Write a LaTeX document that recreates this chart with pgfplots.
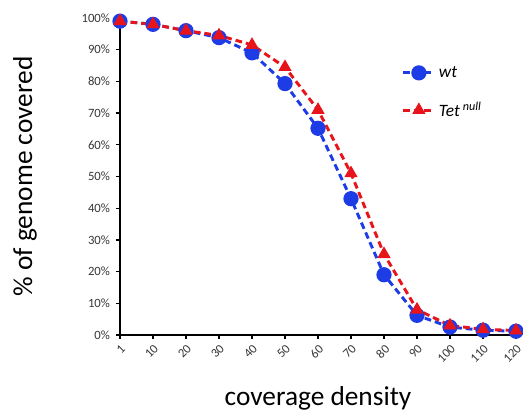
\documentclass[border=0pt]{standalone}
\usepackage{pgfplots}
\pgfplotsset{compat=1.18}
\usepackage{fontspec}
\setmainfont{Carlito}
\definecolor{wtblue}{RGB}{30,60,230}
\definecolor{tetred}{RGB}{232,20,28}
\definecolor{tickgray}{RGB}{55,55,55}
\begin{document}
\begin{tikzpicture}
\begin{axis}[
  scale only axis,
  width=297pt, height=237.75pt,
  xmin=0, xmax=12, ymin=0, ymax=100,
  axis lines=left,
  axis line style={-, line width=1.1pt, black},
  xtick={0,...,12},
  xticklabels={1,10,20,30,40,50,60,70,80,90,100,110,120},
  ytick={0,10,...,100},
  yticklabels={0\%,10\%,20\%,30\%,40\%,50\%,60\%,70\%,80\%,90\%,100\%},
  tick align=outside,
  major tick length=3pt,
  tick style={line width=1pt, black},
  ticklabel style={font=\fontsize{9.5}{11}\selectfont, text=tickgray},
  xticklabel style={rotate=45, anchor=north east, xshift=-0.8pt, yshift=-1pt, inner sep=1.5pt},
  yticklabel style={xshift=-1pt},
  /pgf/number format/assume math mode=true,
  xlabel={coverage density},
  ylabel={\% of genome covered},
  every axis x label/.style={at={(axis description cs:0.5,-0.199)}, anchor=center, font=\fontsize{20.5}{24}\selectfont},
  every axis y label/.style={at={(axis description cs:-0.24,0.5)}, rotate=90, anchor=center, font=\fontsize{20.5}{24}\selectfont},
  clip=false,
  legend style={at={(axis description cs:0.7,0.865)}, anchor=north west, draw=none, fill=none,
    font=\fontsize{13}{15}\selectfont\itshape, row sep=13pt},
  legend cell align=left,
  legend image code/.code={\draw[mark repeat=2,mark phase=2] plot coordinates {(0cm,0cm)(0.42cm,0cm)(0.84cm,0cm)};},
]
\addplot[wtblue, line width=2.2pt, dash pattern=on 5pt off 3pt, mark=*, mark size=4.6pt,
  mark options={solid, fill=wtblue, draw=wtblue}]
  coordinates {(0,99) (1,98) (2,96) (3,93.8) (4,89) (5,79.3) (6,65.2) (7,43) (8,19) (9,6.2) (10,2.5) (11,1.5) (12,1.2)};
\addlegendentry{wt}
\addplot[tetred, line width=2.2pt, dash pattern=on 5pt off 3pt, mark=triangle*, mark size=3.6pt,
  mark options={solid, fill=tetred, draw=tetred}]
  coordinates {(0,99) (1,98) (2,96) (3,94.5) (4,91.5) (5,84.5) (6,71) (7,51) (8,25.5) (9,8) (10,3) (11,1.8) (12,1.4)};
\addlegendentry{Tet\,\textsuperscript{null}}
\end{axis}
\pgfresetboundingbox
\path ([xshift=-90pt,yshift=-60.75pt]current axis.south west) rectangle ([xshift=5.25pt,yshift=13.5pt]current axis.north east);
\end{tikzpicture}
\end{document}
